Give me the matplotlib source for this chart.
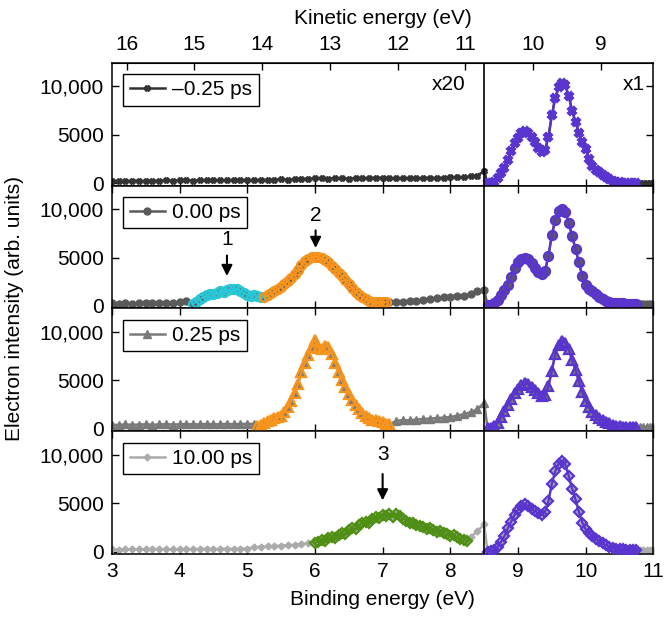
import matplotlib
matplotlib.use("Agg")
import matplotlib.pyplot as plt
import numpy as np

plt.rcParams["font.family"] = ["Liberation Sans", "DejaVu Sans"]
plt.rcParams["font.size"] = 15

HV = 19.22  # kinetic = HV - binding
SPLIT = 8.5


def grid(start, n, step):
    return np.round(start + step * np.arange(n), 3)


labels = ["\u20130.25 ps", "0.00 ps", "0.25 ps", "10.00 ps"]
base_colors = ["#333333", "#5a5a5a", "#7a7a7a", "#ababab"]
markers = ["X", "o", "^", "D"]
msizes = [5.5, 6.5, 7, 5]

# ---- -0.25 ps ----
p1_lo = [200, 220, 180, 250, 230, 200, 260, 240, 280, 250,
         270, 300, 260, 280, 320, 290, 310, 280, 330, 300,
         320, 300, 350, 330, 360, 380, 340, 400, 420, 450,
         480, 500, 460, 520, 490, 470, 500, 480, 520, 560,
         540, 500, 480, 520, 510, 490, 530, 550, 520, 560,
         580, 620, 600, 700, 780, 1250]
p1_pk = [0, 50, 150, 500, 1000, 1600, 2400, 3300, 4100, 4700,
         5200, 5400, 5200, 4800, 4200, 3600, 3250, 3400, 4800, 7000,
         8800, 9900, 10400, 10100, 9000, 7500, 6300, 5200, 4200, 3500,
         2500, 1800, 1400, 1100, 850, 600, 400, 250, 150, 100,
         60, 50, 40, 30, 20]
p1_tail = [20, 30, 20, 30, 20]

# ---- 0.00 ps ----
p2_lo = [250, 220, 280, 240, 260, 300, 250, 280, 320, 300, 380, 500]
p2_cyan = [200, 450, 700, 900, 1100, 1200, 1250, 1300, 1500, 1450,
           1600, 1700, 1800, 1750, 1500, 1300, 1150, 1050, 1100, 1000, 950]
p2_orange = [900, 1100, 1300, 1500, 1700, 2000, 2250, 2600, 2900, 3300,
             3700, 4200, 4600, 4900, 5050, 5100, 5050, 4950, 4750, 4500,
             4150, 3800, 3450, 3050, 2650, 2250, 1850, 1450, 1150, 900,
             700, 550, 450, 420, 400, 380, 380]
p2_hi = [400, 420, 450, 500, 550, 600, 700, 850, 900, 950, 1000, 1050, 1200, 1500, 1650]
p2_pk = [50, 100, 250, 600, 1100, 1600, 2200, 3000, 3900, 4500,
         4850, 4950, 4800, 4400, 3900, 3500, 3250, 3600, 5200, 7300,
         8900, 9800, 10000, 9700, 8600, 7200, 5900, 4500, 3100, 2200,
         1800, 1500, 1250, 950, 700, 500, 380, 320, 300, 280,
         250, 230, 220, 200, 200]
p2_tail = [180, 170, 160, 160, 150]

# ---- 0.25 ps ----
p3_lo = [420, 380, 450, 400, 430, 460, 410, 440, 470, 430, 450,
         480, 440, 460, 490, 450, 470, 500, 460, 480, 510, 490]
p3_orange = [250, 350, 600, 800, 950, 1100, 1200, 1350, 1700, 2200,
             2900, 3700, 4600, 5900, 6800, 7600, 8400, 9200, 8300, 8200,
             8600, 8500, 7700, 6800, 5900, 5000, 4300, 3600, 3000, 2500,
             2000, 1600, 1300, 1100, 950, 850, 780, 650, 500, 450]
p3_hi = [800, 900, 850, 950, 1000, 1050, 1100, 1150, 1200, 1350, 1500, 1700, 2000, 2700]
p3_pk = [50, 100, 250, 600, 1200, 1800, 2500, 3050, 3700, 4100,
         4500, 4700, 4600, 4300, 4050, 3700, 3400, 3500, 4400, 6000,
         7700, 8700, 9100, 8900, 8200, 7100, 6100, 4900, 3800, 2900,
         2200, 1700, 1400, 1150, 900, 700, 550, 400, 300, 250,
         220, 200, 200, 200, 200]
p3_tail = [200, 200, 200, 200, 200]

# ---- 10.00 ps ----
p4_lo = [230, 200, 250, 220, 240, 210, 260, 230, 250, 220,
         240, 260, 230, 250, 270, 240, 260, 280, 250, 270,
         300, 450, 500, 520, 560, 600, 650, 700, 780, 880]
p4_green = [900, 1000, 1200, 1100, 1400, 1500, 1400, 1700, 1900, 1800,
            2200, 2400, 2300, 2700, 2900, 3100, 3000, 3400, 3600, 3500,
            3800, 3700, 3900, 3600, 3900, 3700, 3400, 3200, 3000, 2950,
            2700, 2600, 2500, 2350, 2400, 2200, 2000, 2100, 1900, 1800,
            1600, 1700, 1450, 1300, 1200, 1050]
p4_hi = [1500, 2100, 2800]
p4_pk = [0, 50, 150, 500, 1000, 1600, 2400, 3100, 3800, 4300,
         4700, 4900, 4700, 4400, 4200, 3950, 3800, 4100, 5200, 7000,
         8300, 9100, 9400, 9000, 7800, 6500, 5400, 4100, 3000, 2300,
         1900, 1600, 1300, 1100, 850, 650, 500, 380, 300, 250,
         220, 200, 200, 200, 200]
p4_tail = [150, 150, 200, 200, 150]

purple = "#5a34cf"
orange = "#f7941d"
cyan = "#29c6d6"
green = "#4f8f14"

pk_x = grid(8.55, 45, 0.05)
tail_x = grid(10.80, 5, 0.05)

panels = [
    dict(lo=(grid(3.0, 56, 0.1), p1_lo), seg=[], hi=None, pk=p1_pk, tail=p1_tail),
    dict(lo=(grid(3.0, 12, 0.1), p2_lo),
         seg=[(grid(4.20, 21, 0.05), p2_cyan, cyan), (grid(5.25, 37, 0.05), p2_orange, orange)],
         hi=(grid(7.1, 15, 0.1), p2_hi), pk=p2_pk, tail=p2_tail),
    dict(lo=(grid(3.0, 22, 0.1), p3_lo),
         seg=[(grid(5.15, 40, 0.05), p3_orange, orange)],
         hi=(grid(7.2, 14, 0.1), p3_hi), pk=p3_pk, tail=p3_tail),
    dict(lo=(grid(3.0, 30, 0.1), p4_lo),
         seg=[(grid(6.0, 46, 0.05), p4_green, green)],
         hi=(grid(8.3, 3, 0.1), p4_hi), pk=p4_pk, tail=p4_tail),
]

fig, axes = plt.subplots(4, 1, sharex=True, figsize=(6.66, 6.21), dpi=100)
fig.subplots_adjust(left=0.168, right=0.981, top=0.899, bottom=0.108, hspace=0)

for i, (ax, p) in enumerate(zip(axes, panels)):
    xs = [p["lo"][0]] + [s[0] for s in p["seg"]]
    ys = [np.array(p["lo"][1])] + [np.array(s[1]) for s in p["seg"]]
    if p["hi"] is not None:
        xs.append(p["hi"][0])
        ys.append(np.array(p["hi"][1]))
    xs += [pk_x, tail_x]
    ys += [np.array(p["pk"]), np.array(p["tail"])]
    gx = np.concatenate(xs)
    gy = np.concatenate(ys)
    c = base_colors[i]
    ax.plot(gx, gy, color=c, lw=1.8, marker=markers[i], ms=msizes[i] - 1.5,
            mfc=c, mec=c, label=labels[i], zorder=2)
    for sx, sy, sc in p["seg"]:
        ax.plot(sx, sy, color=sc, lw=1.5, marker=markers[i], ms=msizes[i],
                mfc="none" if i > 0 else sc, mec=sc, mew=1.6, zorder=3)
    ax.plot(pk_x, p["pk"], color=purple, lw=1.6, marker=markers[i], ms=msizes[i],
            mfc="none" if i > 0 else purple, mec=purple, mew=1.6, zorder=3)

    ax.axvline(SPLIT, color="black", lw=1.2, zorder=4)
    ax.set_xlim(3, 11)
    ax.set_ylim(-250, 12450)
    ax.set_yticks([0, 5000, 10000])
    ax.set_yticklabels(["0", "5000", "10,000"])
    ax.set_xticks(range(3, 12))
    ax.tick_params(direction="in", length=5, width=1, top=(i > 0), right=True,
                   labelsize=15, pad=6)
    for s in ax.spines.values():
        s.set_linewidth(1.1)
    leg = ax.legend(loc="upper left", fancybox=False, edgecolor="black",
                    framealpha=1, fontsize=15, handlelength=1.7,
                    borderpad=0.3, borderaxespad=0.55, handletextpad=0.35)
    leg.get_frame().set_linewidth(1.0)

axes[0].text(8.22, 10200, "x20", ha="right", va="center", fontsize=15)
axes[0].text(10.88, 10200, "x1", ha="right", va="center", fontsize=15)

arrow = dict(arrowstyle="-|>", color="black", lw=1.5, mutation_scale=16)
axes[1].text(4.70, 6900, "1", ha="center", va="center", fontsize=15)
axes[1].annotate("", xy=(4.70, 2800), xytext=(4.70, 5500), arrowprops=arrow)
axes[1].text(6.01, 9300, "2", ha="center", va="center", fontsize=15)
axes[1].annotate("", xy=(6.01, 5700), xytext=(6.01, 8100), arrowprops=arrow)
axes[3].text(7.0, 10000, "3", ha="center", va="center", fontsize=15)
axes[3].annotate("", xy=(7.0, 5000), xytext=(7.0, 8300), arrowprops=arrow)

top = axes[0].secondary_xaxis("top", functions=(lambda x: HV - x, lambda x: HV - x))
top.set_xticks(range(9, 17))
top.tick_params(direction="in", length=5, width=1, labelsize=15, pad=6)
top.set_xlabel("Kinetic energy (eV)", fontsize=15, labelpad=8)

axes[-1].set_xlabel("Binding energy (eV)", fontsize=15, labelpad=6)
fig.text(0.022, 0.503, "Electron intensity (arb. units)", rotation=90,
         ha="center", va="center", fontsize=15)

fig.savefig("out.png", dpi=100)
